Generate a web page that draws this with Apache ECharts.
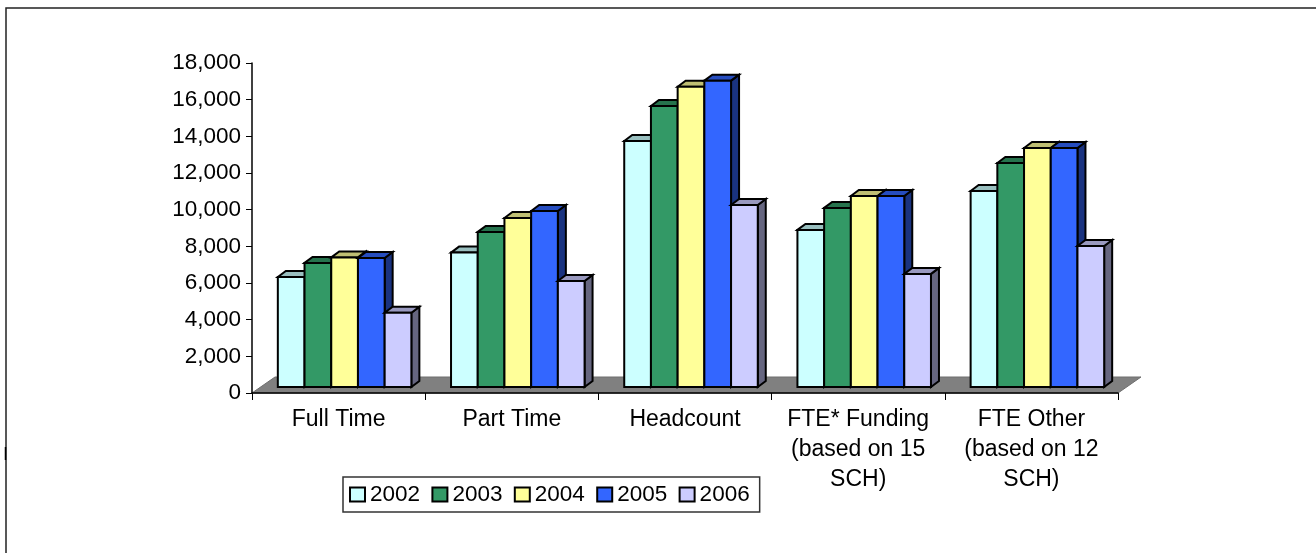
<!DOCTYPE html>
<html>
<head>
<meta charset="utf-8">
<style>html,body{margin:0;padding:0;background:#fff}#c{width:1316px;height:553px}</style>
<script src="https://cdn.jsdelivr.net/npm/echarts@6/dist/echarts.min.js"></script>
</head>
<body>
<div id="c"></div>
<script>
const categories = ['Full Time', 'Part Time', 'Headcount', 'FTE* Funding\n(based on 15\nSCH)', 'FTE Other\n(based on 12\nSCH)'];
const years = ['2002', '2003', '2004', '2005', '2006'];
const values2002 = [6000, 7330, 13420, 8570, 10690];
const values2003 = [6770, 8460, 15330, 9770, 12220];
const values2004 = [7070, 9220, 16380, 10420, 13040];
const values2005 = [7040, 9600, 16710, 10420, 13040];
const values2006 = [4050, 5780, 9930, 6170, 7690];
const yearValues = [values2002, values2003, values2004, values2005, values2006];
const frontColors = ['#CCFFFF', '#339966', '#FFFF99', '#3366FF', '#CCCCFF'];
const topColors = ['#99BFBF', '#26734D', '#BFBF73', '#264DBF', '#9999BF'];
const sideColors = ['#668080', '#1A4D33', '#808066', '#1A3380', '#666680'];

const FONT = '"Liberation Sans", Arial, sans-serif';
const DEPTH_X = 8, DEPTH_Y = 6;          // bar depth
const FRONT_X = 6, FRONT_Y = -6;         // front plane offset from axis
const FLOOR_X = 23, FLOOR_Y = 16;
const GROUP_FILL = 0.771;                // part of category used by the five bars

function barRenderer(s) {
  return function (params, api) {
    const cat = api.value(0), val = api.value(1);
    const base = api.coord([cat, 0]), top = api.coord([cat, val]);
    const band = api.size([1, 0])[0];
    const w = band * GROUP_FILL / years.length;
    const x0 = base[0] + FRONT_X - band * GROUP_FILL / 2 + s * w, x1 = x0 + w;
    const y0 = base[1] + FRONT_Y, y1 = top[1] + FRONT_Y;
    const st = fill => ({ fill: fill, stroke: '#000', lineWidth: 2, lineJoin: 'miter' });
    return {
      type: 'group',
      children: [
        { type: 'polygon', shape: { points: [[x1, y0], [x1 + DEPTH_X, y0 - DEPTH_Y], [x1 + DEPTH_X, y1 - DEPTH_Y], [x1, y1]] }, style: st(sideColors[s]) },
        { type: 'polygon', shape: { points: [[x0, y1], [x0 + DEPTH_X, y1 - DEPTH_Y], [x1 + DEPTH_X, y1 - DEPTH_Y], [x1, y1]] }, style: st(topColors[s]) },
        { type: 'rect', shape: { x: x0, y: y1, width: w, height: y0 - y1 }, style: st(frontColors[s]) }
      ]
    };
  };
}

function floorRenderer(params, api) {
  const band = api.size([1, 0])[0];
  const a = api.coord([0, 0]), b = api.coord([categories.length - 1, 0]);
  const xl = a[0] - band / 2, xr = b[0] + band / 2, y = a[1];
  return {
    type: 'polygon',
    shape: { points: [[xl, y], [xl + FLOOR_X, y - FLOOR_Y], [xr + FLOOR_X, y - FLOOR_Y], [xr, y]] },
    style: { fill: '#808080', stroke: '#6e6e6e', lineWidth: 1 }
  };
}

const series = [{
  type: 'custom', name: 'floor', z: 1, silent: true, clip: false,
  renderItem: floorRenderer, data: [[0, 0]], encode: { x: 0, y: 1 }
}];
years.forEach((y, s) => {
  series.push({
    type: 'custom', name: y, z: 3, clip: false,
    itemStyle: { color: frontColors[s], borderColor: '#000', borderWidth: 2 },
    renderItem: barRenderer(s),
    encode: { x: 0, y: 1 },
    data: yearValues[s].map((v, i) => [i, v])
  });
});

const chart = echarts.init(document.getElementById('c'), null, { renderer: 'canvas' });
chart.setOption({
  animation: false,
  backgroundColor: '#fff',
  textStyle: { fontFamily: FONT },
  grid: { left: 252, right: 198, top: 63, bottom: 160, containLabel: false },
  xAxis: {
    type: 'category', data: categories, z: 2,
    axisLine: { lineStyle: { color: '#000', width: 1.5 } },
    axisTick: { show: true, length: 7, alignWithLabel: false, lineStyle: { color: '#000', width: 1 } },
    axisLabel: { interval: 0, color: '#000', fontFamily: FONT, fontSize: 23, lineHeight: 30, margin: 12 },
    splitLine: { show: false }
  },
  yAxis: {
    type: 'value', min: 0, max: 18000, interval: 2000, z: 2,
    axisLine: { show: true, lineStyle: { color: '#000', width: 1.5 } },
    axisTick: { show: true, length: 6, lineStyle: { color: '#000', width: 1 } },
    axisLabel: { color: '#000', fontFamily: FONT, fontSize: 22.5, margin: 11, padding: [2, 0, 0, 0] },
    splitLine: { show: false }
  },
  legend: {
    left: 343, top: 477, orient: 'horizontal',
    padding: [6, 10, 6, 6], borderColor: '#333', borderWidth: 1.5, backgroundColor: '#fff',
    itemWidth: 15, itemHeight: 14, itemGap: 11.35, icon: 'rect',
    selectedMode: false,
    textStyle: { color: '#000', fontFamily: FONT, fontSize: 22.5, padding: [2, 0, 0, 0] },
    data: years.map((y, s) => ({ name: y, icon: 'rect', itemStyle: { color: frontColors[s], borderColor: '#000', borderWidth: 2 } }))
  },
  graphic: [
    { type: 'polyline', silent: true, shape: { points: [[6, 553], [6, 8], [1316, 8]] }, style: { fill: 'none', stroke: '#222', lineWidth: 1.5 } },
    { type: 'line', silent: true, shape: { x1: 5.5, y1: 447, x2: 5.5, y2: 460 }, style: { stroke: '#000', lineWidth: 1.5 } }
  ],
  series: series
});
</script>
</body>
</html>
